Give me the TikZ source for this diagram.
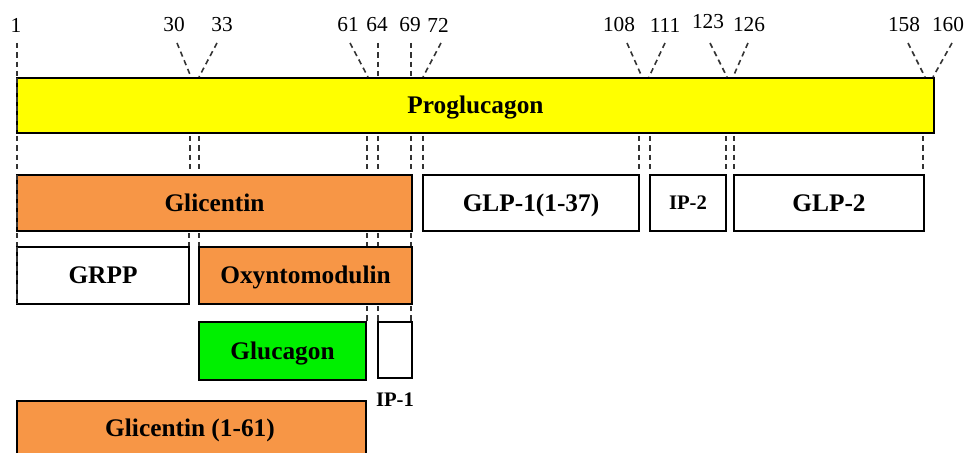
\documentclass[tikz,border=0pt]{standalone}
\usepackage{fontspec}
\setmainfont{Liberation Serif}
\definecolor{pgyellow}{HTML}{FFFF00}
\definecolor{pgorange}{HTML}{F79646}
\definecolor{pggreen}{HTML}{00F000}
\begin{document}
\begin{tikzpicture}[x=0.75pt,y=-0.75pt,
  seg/.style={draw=black, line width=1.2pt, inner sep=0pt, outer sep=0pt, anchor=north west,
    text height=12.5pt, text depth=0pt,
    font=\fontsize{19}{22}\selectfont\bfseries},
  num/.style={inner sep=0pt, font=\fontsize{16}{18}\selectfont},
  lead/.style={draw=black!80, line width=1.2pt, dash pattern=on 4pt off 3pt},
  small/.style={font=\fontsize{15.5}{18}\selectfont\bfseries}]
\useasboundingbox (0,0) rectangle (979,453);
\begin{scope}
\clip (0,0) rectangle (979,453);
% boxes
\node[seg, fill=pgyellow, minimum width={(934-17)*0.75pt}, minimum height={(133-78)*0.75pt}] (prog) at (17,78) {Proglucagon};
\node[seg, fill=pgorange, minimum width={(412-17)*0.75pt}, minimum height={(231-175)*0.75pt}] (glic) at (17,175) {Glicentin};
\node[seg, fill=white, minimum width={(639-423)*0.75pt}, minimum height={(231-175)*0.75pt}] (glp1) at (423,175) {GLP-1(1-37)};
\node[seg, fill=white, small, text height=10.2pt, minimum width={(726-650)*0.75pt}, minimum height={(231-175)*0.75pt}] (ip2) at (650,175) {IP-2};
\node[seg, fill=white, minimum width={(924-734)*0.75pt}, minimum height={(231-175)*0.75pt}] (glp2) at (734,175) {GLP-2};
\node[seg, fill=white, minimum width={(189-17)*0.75pt}, minimum height={(304-247)*0.75pt}] (grpp) at (17,247) {GRPP};
\node[seg, fill=pgorange, minimum width={(412-199)*0.75pt}, minimum height={(304-247)*0.75pt}] (oxy) at (199,247) {Oxyntomodulin};
\node[seg, fill=pggreen, minimum width={(366-199)*0.75pt}, minimum height={(380-322)*0.75pt}] (gluc) at (199,322) {Glucagon};
\node[seg, fill=white, minimum width={(412-378)*0.75pt}, minimum height={(378-322)*0.75pt}] (ip1) at (378,322) {};
\node[small, inner sep=0pt] (ip1lab) at (395,400) {IP-1};
\node[seg, fill=pgorange, minimum width={(366-17)*0.75pt}, minimum height={(480-401)*0.75pt}] (g61) at (17,401) {};
\node[font=\fontsize{19}{22}\selectfont\bfseries, inner sep=0pt] (g61lab) at (190,430) {Glicentin (1-61)};
% left dashed edges
\draw[lead, line width=1.6pt] (prog.north west) -- (prog.south west);
\draw[lead, line width=1.6pt] (glic.north west) -- (glic.south west);
\draw[lead, line width=1.6pt] (grpp.north west) -- (grpp.south west);
% position labels
\node[num] (n1) at (16,25) {1};
\node[num] (n30) at (174,25) {30};
\node[num] (n33) at (222,25) {33};
\node[num] (n61) at (348,25) {61};
\node[num] (n64) at (377,25) {64};
\node[num] (n69) at (410,25) {69};
\node[num] (n72) at (438,25) {72};
\node[num] (n108) at (619,25) {108};
\node[num] (n111) at (665,25) {111};
\node[num] (n123) at (708,22) {123};
\node[num] (n126) at (749,25) {126};
\node[num] (n158) at (904,25) {158};
\node[num] (n160) at (948,25) {160};
% top leaders
\foreach \n/\a/\b in {n1/17/17, n30/177/191, n33/217/199, n61/350/368, n64/378/378, n69/411/411, n72/441/423,
  n108/627/642, n111/665/649, n123/710/727, n126/748/733, n158/908/925, n160/952/933}{
  \coordinate (\n s) at (\a,43);
  \coordinate (\n e) at (\b,77);
  \draw[lead] (\n s) -- (\n e);
}
% bar to row 2
\foreach \x in {17,190,199,367,378,411,423,639,650,726,734,923}{
  \coordinate (a\x) at (\x,136);
  \coordinate (b\x) at (\x,173);
  \draw[lead] (a\x) -- (b\x);
}
% row 2 to row 3
\foreach \x in {17,189,199,367,378,411}{
  \coordinate (c\x) at (\x,233);
  \coordinate (d\x) at (\x,246);
  \draw[lead] (c\x) -- (d\x);
}
% row 3 to row 4
\foreach \x in {367,378,411}{
  \coordinate (e\x) at (\x,306);
  \coordinate (f\x) at (\x,321);
  \draw[lead] (e\x) -- (f\x);
}
\end{scope}
\end{tikzpicture}
\end{document}
